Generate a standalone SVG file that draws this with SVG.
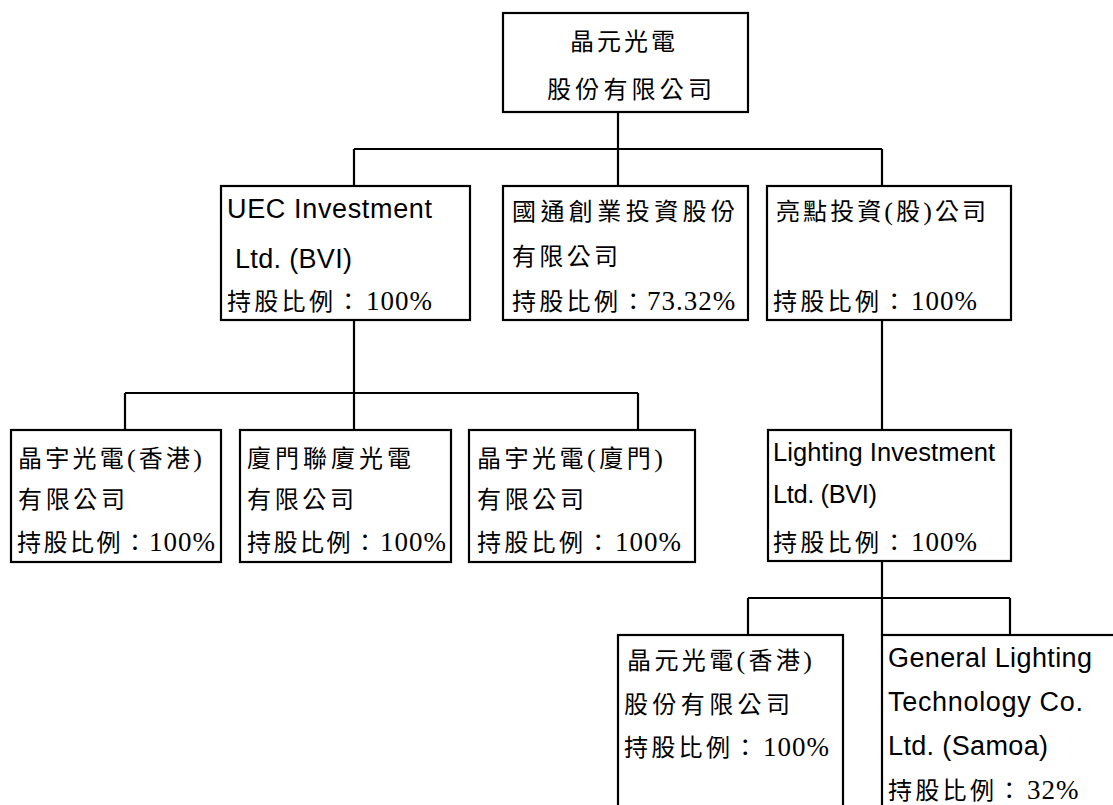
<svg xmlns="http://www.w3.org/2000/svg" width="1113" height="805" viewBox="0 0 1113 805">
<style>
.box{fill:#fff;stroke:#000;stroke-width:2.2}
.ln{fill:none;stroke:#000;stroke-width:2.2}
.cj{font-family:"Liberation Serif","Noto Sans CJK TC",serif;font-size:24px;fill:#000}
.sp{letter-spacing:3.3px}
.sp2{letter-spacing:2.5px}
.lat{font-family:"Liberation Sans",Arial,sans-serif;font-size:27px;fill:#000}
.lat2{font-family:"Liberation Sans",Arial,sans-serif;font-size:25.5px;fill:#000}
.num{font-family:"Liberation Serif","Times New Roman",serif;font-size:27px;letter-spacing:1px}
.par{font-family:"Liberation Serif","Times New Roman",serif;font-size:26px}
</style>
<rect width="1113" height="805" fill="#fff"/>
<g id="connectors">
<path class="ln" d="M618 112V186M354 149H882M354 149V186M882 149V186"/>
<path class="ln" d="M354 320V430M125 393H638M125 393V430M638 393V430"/>
<path class="ln" d="M882 320V430"/>
<path class="ln" d="M882 561V635M748 598H1010M748 598V635M1010 598V635"/>
</g>
<g id="n-top">
<rect class="box" x="503" y="13" width="245" height="99"/>
<text class="cj" x="570" y="50" textLength="105">晶元光電</text>
<text class="cj" x="547" y="98" textLength="165">股份有限公司</text>
</g>
<g id="n-uec">
<rect class="box" x="221" y="186" width="249" height="134"/>
<text class="lat" x="227" y="218" textLength="205">UEC Investment</text>
<text class="lat" x="235" y="268" textLength="117">Ltd. (BVI)</text>
<text class="cj" x="227" y="310"><tspan class="sp">持股比例：</tspan><tspan class="num" x="366">100%</tspan></text>
</g>
<g id="n-guotong">
<rect class="box" x="503" y="186" width="245" height="134"/>
<text class="cj" x="512" y="220" textLength="223">國通創業投資股份</text>
<text class="cj" x="512" y="265" textLength="106">有限公司</text>
<text class="cj" x="512" y="310"><tspan class="sp">持股比例：</tspan><tspan class="num" x="647">73.32%</tspan></text>
</g>
<g id="n-liangdian">
<rect class="box" x="767" y="186" width="244" height="134"/>
<text class="cj" x="776" y="220" textLength="210">亮點投資<tspan class="par">(</tspan>股<tspan class="par">)</tspan>公司</text>
<text class="cj" x="773" y="310"><tspan class="sp">持股比例：</tspan><tspan class="num" x="911">100%</tspan></text>
</g>
<g id="n-jingyu-hk">
<rect class="box" x="11" y="430" width="210" height="132"/>
<text class="cj" x="18" y="467" textLength="184">晶宇光電<tspan class="par">(</tspan>香港<tspan class="par">)</tspan></text>
<text class="cj" x="18" y="508" textLength="107">有限公司</text>
<text class="cj" x="17" y="551"><tspan class="sp2">持股比例：</tspan><tspan class="num" x="149">100%</tspan></text>
</g>
<g id="n-xiamen-lianxia">
<rect class="box" x="240" y="430" width="211" height="132"/>
<text class="cj" x="247" y="467" textLength="164">廈門聯廈光電</text>
<text class="cj" x="247" y="508" textLength="107">有限公司</text>
<text class="cj" x="247" y="551"><tspan class="sp2">持股比例：</tspan><tspan class="num" x="380">100%</tspan></text>
</g>
<g id="n-jingyu-xm">
<rect class="box" x="469" y="430" width="226" height="132"/>
<text class="cj" x="477" y="467" textLength="186">晶宇光電<tspan class="par">(</tspan>廈門<tspan class="par">)</tspan></text>
<text class="cj" x="477" y="508" textLength="107">有限公司</text>
<text class="cj" x="477" y="551"><tspan class="sp">持股比例：</tspan><tspan class="num" x="615">100%</tspan></text>
</g>
<g id="n-lighting">
<rect class="box" x="768" y="430" width="243" height="131"/>
<text class="lat2" x="773" y="461" textLength="222">Lighting Investment</text>
<text class="lat2" x="773" y="503" textLength="104">Ltd. (BVI)</text>
<text class="cj" x="773" y="551"><tspan class="sp">持股比例：</tspan><tspan class="num" x="911">100%</tspan></text>
</g>
<g id="n-jingyuan-hk">
<rect class="box" x="618" y="635" width="225" height="185"/>
<text class="cj" x="627" y="669" textLength="185">晶元光電<tspan class="par">(</tspan>香港<tspan class="par">)</tspan></text>
<text class="cj" x="624" y="713" textLength="166">股份有限公司</text>
<text class="cj" x="624" y="756"><tspan class="sp">持股比例：</tspan><tspan class="num" x="763">100%</tspan></text>
</g>
<g id="n-general">
<rect class="box" x="882" y="635" width="250" height="185"/>
<text class="lat" x="888" y="667" textLength="204">General Lighting</text>
<text class="lat" x="888" y="711" textLength="195">Technology Co.</text>
<text class="lat" x="888" y="755" textLength="160">Ltd. (Samoa)</text>
<text class="cj" x="888" y="799"><tspan class="sp">持股比例：</tspan><tspan class="num" x="1027">32%</tspan></text>
</g>
</svg>
